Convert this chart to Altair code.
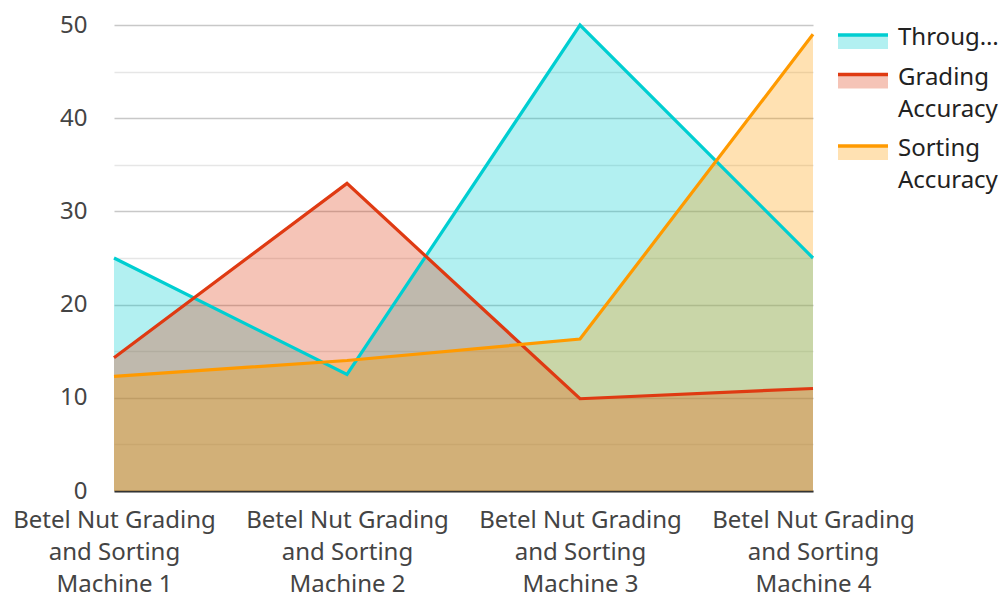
import altair as alt
import pandas as pd

machines = [
    "Betel Nut Grading and Sorting Machine 1",
    "Betel Nut Grading and Sorting Machine 2",
    "Betel Nut Grading and Sorting Machine 3",
    "Betel Nut Grading and Sorting Machine 4",
]
series_names = ["Throughput", "Grading Accuracy", "Sorting Accuracy"]
throughput = [25, 12.5, 50, 25]
grading_accuracy = [14.3, 33, 9.9, 11]
sorting_accuracy = [12.3, 14, 16.3, 49]
colors = ["#00CED1", "#DF3A12", "#FF9A00"]
y_ticks = [0, 5, 10, 15, 20, 25, 30, 35, 40, 45, 50]

FONT = "Noto Sans"
FS = 24
rows = []
for si, (name, vals) in enumerate(zip(series_names, [throughput, grading_accuracy, sorting_accuracy])):
    for m, v in zip(machines, vals):
        rows.append({"machine": m, "series": name, "value": v, "series_idx": si})
df = pd.DataFrame(rows)

color = alt.Color("series:N", scale=alt.Scale(domain=series_names, range=colors), legend=None)
x_axis = alt.Axis(title=None, labelAngle=0, labelFont=FONT, labelFontSize=FS,
                  labelColor="#444444", labelLineHeight=32, labelPadding=17,
                  labelExpr="[substring(datum.label,0,17), substring(datum.label,18,29), substring(datum.label,30)]",
                  ticks=False, domainColor="#333333", domainWidth=2, grid=False,
                  labelLimit=400)
y_axis = alt.Axis(title=None, values=y_ticks, labelFont=FONT, labelFontSize=FS,
                  labelColor="#444444", labelPadding=27, ticks=False, domain=False,
                  labelExpr="datum.value % 10 == 0 ? datum.label : ''",
                  gridColor={"condition": {"test": "datum.value % 10 == 0", "value": "#c8c8c8"},
                             "value": "#e6e6e6"},
                  gridWidth=1.5)
x = alt.X("machine:N", sort=machines, scale=alt.Scale(type="point", padding=0), axis=x_axis)
y = alt.Y("value:Q", stack=None, scale=alt.Scale(domain=[0, 50], nice=False), axis=y_axis)

base = alt.Chart(df).encode(x=x, y=y, color=color, detail="series:N")
areas = base.mark_area(opacity=0.3, interpolate="linear").encode(order=alt.Order("series_idx:Q"))
lines = base.mark_line(strokeWidth=3.2)

main = alt.layer(areas, lines).properties(width=699, height=466)

# legend panel built from the series names
LINE_H = 32
GAP = 7.5
leg_rows = []
lines_before = 0
for i, name in enumerate(series_names):
    parts = [name] if i == 0 else name.split(" ")
    center = 13 + lines_before * LINE_H + i * GAP
    leg_rows.append({"series": name, "text": parts, "center": center,
                     "line_y": center - 3, "rect_bottom": center + 11})
    lines_before += len(parts)

ly = alt.Scale(domain=[0, 466], range=[0, 466])
leg_color = alt.Color("series:N", scale=alt.Scale(domain=series_names, range=colors), legend=None)
leg_base = alt.Chart(alt.Data(values=leg_rows)).encode(color=leg_color)
leg_rect = leg_base.mark_rect(opacity=0.3).encode(
    x=alt.value(0), x2=alt.value(50),
    y=alt.Y("line_y:Q", scale=ly, axis=None), y2="rect_bottom:Q")
leg_rule = leg_base.mark_rule(strokeWidth=3.5).encode(
    x=alt.value(0), x2=alt.value(50), y=alt.Y("line_y:Q", scale=ly, axis=None))
leg_text = alt.Chart(alt.Data(values=leg_rows)).mark_text(
    align="left", baseline="middle", font=FONT, fontSize=FS, lineHeight=32,
    color="#222222", limit=106).encode(
    x=alt.value(60), y=alt.Y("center:Q", scale=ly, axis=None), text="text:N")
legend = alt.layer(leg_rect, leg_rule, leg_text).properties(width=150, height=466)

chart = alt.hconcat(main, legend, spacing=25, bounds="flush").properties(
    padding={"left": 4, "top": 5, "right": 0, "bottom": 0}
).configure(font=FONT).configure_view(strokeWidth=0)

chart.save("out.html", embed_options={"renderer": "svg", "actions": False})
